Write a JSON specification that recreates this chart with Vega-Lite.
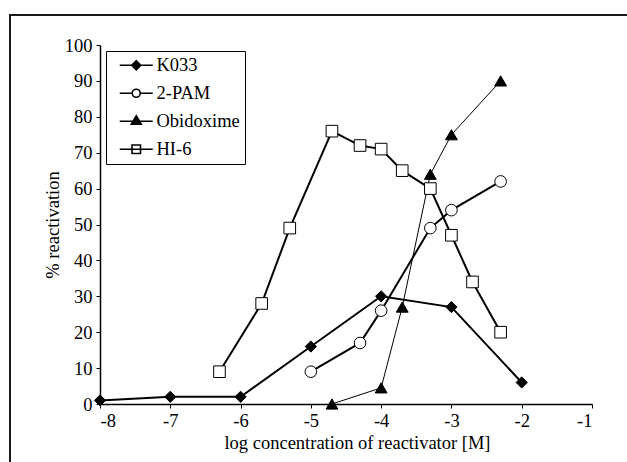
{
  "$schema": "https://vega.github.io/schema/vega-lite/v6.json",
  "autosize": {"type": "none"},
  "padding": {"left": 10, "top": 15, "right": 0, "bottom": 0},
  "width": 625,
  "height": 455,
  "background": "white",
  "config": {
    "view": {"stroke": "#1a1a1a", "strokeWidth": 2},
    "font": "Liberation Serif",
    "axis": {
      "labelFont": "Liberation Serif",
      "labelFontSize": 18.5,
      "labelColor": "black",
      "titleFont": "Liberation Serif",
      "titleFontSize": 18.5,
      "titleFontWeight": "normal",
      "titleColor": "black",
      "tickColor": "black",
      "tickSize": 4,
      "domainColor": "black",
      "domainWidth": 1.5,
      "grid": false
    },
    "legend": {
      "labelFont": "Liberation Serif",
      "labelFontSize": 18.5,
      "labelColor": "black"
    }
  },
  "data": {
    "values": [
      {"series": "K033", "x": -8, "y": 1},
      {"series": "K033", "x": -7, "y": 2},
      {"series": "K033", "x": -6, "y": 2},
      {"series": "K033", "x": -5, "y": 16},
      {"series": "K033", "x": -4, "y": 30},
      {"series": "K033", "x": -3, "y": 27},
      {"series": "K033", "x": -2, "y": 6},
      {"series": "2-PAM", "x": -5, "y": 9},
      {"series": "2-PAM", "x": -4.3, "y": 17},
      {"series": "2-PAM", "x": -4, "y": 26},
      {"series": "2-PAM", "x": -3.3, "y": 49},
      {"series": "2-PAM", "x": -3, "y": 54},
      {"series": "2-PAM", "x": -2.3, "y": 62},
      {"series": "Obidoxime", "x": -4.7, "y": 0},
      {"series": "Obidoxime", "x": -4, "y": 4.5},
      {"series": "Obidoxime", "x": -3.7, "y": 27},
      {"series": "Obidoxime", "x": -3.3, "y": 64},
      {"series": "Obidoxime", "x": -3, "y": 75},
      {"series": "Obidoxime", "x": -2.3, "y": 90},
      {"series": "HI-6", "x": -6.3, "y": 9},
      {"series": "HI-6", "x": -5.7, "y": 28},
      {"series": "HI-6", "x": -5.3, "y": 49},
      {"series": "HI-6", "x": -4.7, "y": 76},
      {"series": "HI-6", "x": -4.3, "y": 72},
      {"series": "HI-6", "x": -4, "y": 71},
      {"series": "HI-6", "x": -3.7, "y": 65},
      {"series": "HI-6", "x": -3.3, "y": 60},
      {"series": "HI-6", "x": -3, "y": 47},
      {"series": "HI-6", "x": -2.7, "y": 34},
      {"series": "HI-6", "x": -2.3, "y": 20}
    ]
  },
  "encoding": {
    "x": {"field": "x", "type": "quantitative",
      "scale": {"domain": [-8, -1], "range": [90, 582], "nice": false, "zero": false},
      "axis": {"orient": "bottom", "offset": -66, "values": [-8, -7, -6, -5, -4, -3, -2, -1],
        "labelExpr": "datum.value + ''", "title": "log concentration of reactivator [M]",
        "labelPadding": 3, "titlePadding": 4, "titleX": 347}},
    "y": {"field": "y", "type": "quantitative",
      "scale": {"domain": [0, 100], "range": [389, 30], "nice": false, "zero": false},
      "axis": {"orient": "left", "offset": -90, "values": [0, 10, 20, 30, 40, 50, 60, 70, 80, 90, 100],
        "title": "% reactivation", "labelPadding": 4, "titlePadding": 2}}
  },
  "layer": [
    {
      "data": {"values": [{}]},
      "mark": {"type": "rule", "color": "black", "strokeWidth": 1.5},
      "encoding": {
        "x": {"datum": -8, "type": "quantitative"},
        "x2": {"datum": -1},
        "y": {"datum": 100, "type": "quantitative"}
      }
    },
    {
      "data": {"values": [{}]},
      "mark": {"type": "rule", "color": "black", "strokeWidth": 1.5},
      "encoding": {
        "x": {"datum": -1, "type": "quantitative"},
        "y": {"datum": 0, "type": "quantitative"},
        "y2": {"datum": 100}
      }
    },
    {
      "transform": [{"filter": "datum.series !== 'Obidoxime'"}],
      "mark": {"type": "line", "color": "black", "strokeWidth": 2},
      "encoding": {
        "detail": {"field": "series", "type": "nominal"}
      }
    },
    {
      "transform": [{"filter": "datum.series === 'Obidoxime'"}],
      "mark": {"type": "line", "color": "black", "strokeWidth": 1},
      "encoding": {}
    },
    {
      "transform": [{"filter": "datum.series === 'K033'"}],
      "mark": {"type": "point", "shape": "diamond", "filled": true, "fill": "black", "stroke": "black", "strokeWidth": 1, "size": 125, "opacity": 1}
    },
    {
      "transform": [{"filter": "datum.series === '2-PAM'"}],
      "mark": {"type": "point", "shape": "circle", "filled": true, "fill": "white", "stroke": "black", "strokeWidth": 1, "size": 135, "opacity": 1}
    },
    {
      "transform": [{"filter": "datum.series === 'Obidoxime'"}],
      "mark": {"type": "point", "shape": "triangle-up", "filled": true, "fill": "black", "stroke": "black", "strokeWidth": 1, "size": 140, "opacity": 1}
    },
    {
      "transform": [{"filter": "datum.series === 'HI-6'"}],
      "mark": {"type": "point", "shape": "square", "filled": true, "fill": "white", "stroke": "black", "strokeWidth": 1, "size": 135, "opacity": 1}
    },
    {
      "mark": {"type": "point", "filled": true, "opacity": 0},
      "encoding": {
        "fill": {"field": "series", "type": "nominal",
          "scale": {"domain": ["K033", "2-PAM", "Obidoxime", "HI-6"], "range": ["black", "white", "black", "white"]},
          "legend": {
            "title": null, "orient": "none", "legendX": 96, "legendY": 36,
            "strokeColor": "black", "fillColor": "white", "padding": 5,
            "symbolSize": 100, "symbolOffset": 16, "labelOffset": 11, "rowPadding": 9, "symbolOpacity": 1
          }},
        "stroke": {"field": "series", "type": "nominal",
          "scale": {"domain": ["K033", "2-PAM", "Obidoxime", "HI-6"], "range": ["black", "black", "black", "black"]},
          "legend": {
            "title": null, "orient": "none", "legendX": 96, "legendY": 36,
            "strokeColor": "black", "fillColor": "white", "padding": 5,
            "symbolSize": 100, "symbolOffset": 16, "labelOffset": 11, "rowPadding": 9, "symbolOpacity": 1
          }},
        "strokeWidth": {"field": "series", "type": "nominal",
          "scale": {"domain": ["K033", "2-PAM", "Obidoxime", "HI-6"], "range": [1.6, 1.6, 1, 1.6]},
          "legend": {
            "title": null, "orient": "none", "legendX": 96, "legendY": 36,
            "strokeColor": "black", "fillColor": "white", "padding": 5,
            "symbolSize": 100, "symbolOffset": 16, "labelOffset": 11, "rowPadding": 9, "symbolOpacity": 1
          }},
        "shape": {"field": "series", "type": "nominal",
          "scale": {"domain": ["K033", "2-PAM", "Obidoxime", "HI-6"],
            "range": [
              "M-3.3,0H3.3M0,-0.9L0.9,0L0,0.9L-0.9,0Z",
              "M-3.3,0H-0.8M0.8,0H3.3M0.8,0A0.8,0.8 0 1,1 -0.8,0A0.8,0.8 0 1,1 0.8,0Z",
              "M-3.3,0H3.3M0,-1.1L1,0.6L-1,0.6Z",
              "M-3.3,0H3.3M-0.85,-0.85H0.85V0.85H-0.85Z"
            ]},
          "legend": {
            "title": null, "orient": "none", "legendX": 96, "legendY": 36,
            "strokeColor": "black", "fillColor": "white", "padding": 5,
            "symbolSize": 100, "symbolOffset": 16, "labelOffset": 11, "rowPadding": 9, "symbolOpacity": 1
          }
        }
      }
    }
  ]
}
